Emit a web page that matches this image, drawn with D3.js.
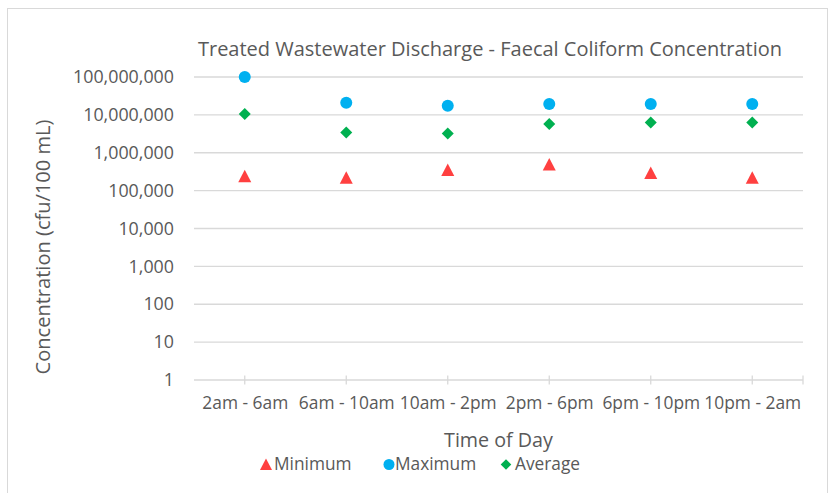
<!DOCTYPE html>
<html>
<head>
<meta charset="utf-8">
<script src="https://cdnjs.cloudflare.com/ajax/libs/d3/7.8.5/d3.min.js"></script>
<style>
  body { margin: 0; background: #fff; }
  svg text { font-family: "Open Sans", sans-serif; fill: #595959; }
</style>
</head>
<body>
<div id="chart"></div>
<script>
// categories on the x axis
var periods = ["2am - 6am", "6am - 10am", "10am - 2pm", "2pm - 6pm", "6pm - 10pm", "10pm - 2am"];
// series values (cfu/100 mL)
var minimum = [240000, 220000, 350000, 490000, 290000, 220000];
var maximum = [100000000, 21000000, 17500000, 19500000, 19500000, 19500000];
var average = [10500000, 3400000, 3200000, 5700000, 6300000, 6300000];
// y tick values
var yTicks = [1, 10, 100, 1000, 10000, 100000, 1000000, 10000000, 100000000];

var W = 835, H = 493;
var plot = { left: 194, right: 803, top: 77, bottom: 380 };

var svg = d3.select("#chart").append("svg").attr("width", W).attr("height", H);

// font size so that a sample string gets a given width (Calibri is not installed)
function fitSize(sample, width) {
  var t = svg.append("text").style("font-family", "Open Sans").style("font-size", "100px").text(sample);
  var w = t.node().getComputedTextLength();
  t.remove();
  return (100 * width / w).toFixed(2) + "px";
}
var titleSize = fitSize("Treated Wastewater Discharge - Faecal Coliform Concentration", 584);
var yTickSize = fitSize("100,000,000", 101);
var xTickSize = fitSize("2am - 6am", 86);
var xTitleSize = fitSize("Time of Day", 109);
var yTitleSize = fitSize("Concentration (cfu/100 mL)", 255);
var legendSize = fitSize("Minimum Maximum Average", 233);

// chart border
svg.append("rect").attr("x", 7.5).attr("y", 8.5).attr("width", 820).attr("height", 500)
  .attr("fill", "none").attr("stroke", "#d9d9d9").attr("stroke-width", 1);

var x = d3.scalePoint().domain(periods).range([plot.left, plot.right]).padding(0.5);
var y = d3.scaleLog().domain([1, 1e8]).range([plot.bottom, plot.top]);

// gridlines
svg.append("g").selectAll("line").data(yTicks.slice(1)).enter().append("line")
  .attr("x1", plot.left).attr("x2", plot.right)
  .attr("y1", function (d) { return y(d); }).attr("y2", function (d) { return y(d); })
  .attr("stroke", "#d9d9d9").attr("stroke-width", 1.3);

// y axis labels
var fmt = d3.format(",");
var yAxis = d3.axisLeft(y).tickValues(yTicks).tickFormat(fmt).tickSize(0).tickPadding(20);
var yg = svg.append("g").attr("transform", "translate(" + plot.left + ",0)").call(yAxis);
yg.select(".domain").remove();
yg.selectAll("text").style("font-size", yTickSize).style("font-family", "Open Sans").style("fill", "#595959");

// x axis line + ticks (ticks at category points and at right end)
var xAxis = d3.axisBottom(x).tickSize(0).tickPadding(17);
var xg = svg.append("g").attr("transform", "translate(0," + plot.bottom + ")").call(xAxis);
xg.select(".domain").attr("d", "M" + plot.left + ",0H" + plot.right).attr("stroke", "#d9d9d9").attr("stroke-width", 1.3);
xg.selectAll("text").style("font-size", xTickSize).style("font-family", "Open Sans").style("fill", "#595959");
var tickXs = periods.map(function (p) { return x(p); }).concat([plot.right]);
xg.selectAll(".tk").data(tickXs).enter().append("line").attr("class", "tk")
  .attr("x1", function (d) { return d; }).attr("x2", function (d) { return d; })
  .attr("y1", -4.5).attr("y2", 4.5).attr("stroke", "#d9d9d9").attr("stroke-width", 1.3);

// title
svg.append("text").attr("x", 490).attr("y", 56).attr("text-anchor", "middle")
  .style("font-size", titleSize).text("Treated Wastewater Discharge - Faecal Coliform Concentration");

// axis titles
svg.append("text").attr("x", 498.5).attr("y", 447).attr("text-anchor", "middle")
  .style("font-size", xTitleSize).text("Time of Day");
svg.append("text").attr("transform", "translate(50,247) rotate(-90)").attr("text-anchor", "middle")
  .style("font-size", yTitleSize).text("Concentration (cfu/100 mL)");

// series
var series = [
  { name: "Minimum", values: minimum, color: "#FF4040", shape: "triangle" },
  { name: "Maximum", values: maximum, color: "#00B0F0", shape: "circle" },
  { name: "Average", values: average, color: "#00B050", shape: "diamond" }
];

function marker(sel, shape, color) {
  if (shape === "circle") {
    sel.append("circle").attr("r", 6).attr("fill", color);
  } else if (shape === "diamond") {
    sel.append("path").attr("d", d3.symbol().type(d3.symbolSquare).size(72)())
      .attr("transform", "rotate(45)").attr("fill", color);
  } else {
    sel.append("path").attr("d", "M0,-6.5L6.5,6L-6.5,6Z").attr("fill", color);
  }
}

series.forEach(function (s) {
  var g = svg.append("g");
  g.selectAll("g").data(s.values).enter().append("g")
    .attr("transform", function (d, i) { return "translate(" + x(periods[i]) + "," + y(d) + ")"; })
    .each(function () { marker(d3.select(this), s.shape, s.color); });
});

// legend
var legendPos = [{ m: 266, t: 274 }, { m: 389, t: 395 }, { m: 506, t: 515 }];
series.forEach(function (s, i) {
  var lg = svg.append("g");
  var mk = lg.append("g").attr("transform", "translate(" + legendPos[i].m + ",464.5)");
  if (s.shape === "circle") {
    mk.append("circle").attr("r", 5.5).attr("fill", s.color);
  } else if (s.shape === "diamond") {
    mk.append("path").attr("d", d3.symbol().type(d3.symbolSquare).size(56)())
      .attr("transform", "rotate(45)").attr("fill", s.color);
  } else {
    mk.append("path").attr("d", "M0,-6L6,5.5L-6,5.5Z").attr("fill", s.color);
  }
  lg.append("text").attr("x", legendPos[i].t).attr("y", 470).style("font-size", legendSize).text(s.name);
});
</script>
</body>
</html>
